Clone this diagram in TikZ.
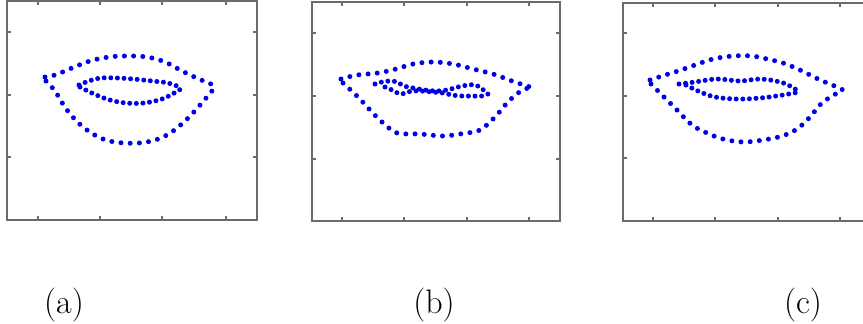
\documentclass[tikz,border=0pt]{standalone}
\usepackage{tikz}

\tikzset{
  frame/.style={draw=black!58, line width=0.75pt},
  axtick/.style={draw=black!58, line width=0.6pt},
  lipdots/.style={draw=blue!90!black, line width=2.5pt, line cap=round, dash pattern=on 0pt off 4.6pt},
  innerdots/.style={lipdots, dash pattern=on 0pt off 3.3pt},
  caption/.style={font=\fontsize{17}{20}\selectfont, inner sep=0pt}
}

\begin{document}
\begin{tikzpicture}[x=0.5pt, y=-0.5pt]
\useasboundingbox (0,0) rectangle (863,323);
\clip (0,0) rectangle (863,323);

% panel (a)
\draw[frame] (7,1) rectangle (257,220);
\foreach \tx in {38,100,162,226} {\draw[axtick] (\tx,1) -- ++(0,4); \draw[axtick] (\tx,220) -- ++(0,-4);}
\foreach \ty in {32,95,157} {\draw[axtick] (7,\ty) -- ++(4,0); \draw[axtick] (257,\ty) -- ++(-4,0);}
\draw[lipdots] plot[smooth, tension=0.6] coordinates {(45,77) (55,75) (72,68) (90,61) (109,57) (128,56) (147,57) (165,62) (182,71) (199,79) (216,86)};
\draw[lipdots] plot[smooth, tension=0.6] coordinates {(46,81) (55,91) (67,110) (83,127) (103,139) (124,143) (147,142) (167,135) (185,121) (201,104) (216,86)};
\draw[innerdots] plot[smooth, tension=0.6] coordinates {(79,85) (89,81) (101,78) (117,78) (133,79) (152,81) (168,83) (182,88)};
\draw[innerdots] plot[smooth, tension=0.6] coordinates {(80,87) (94,94) (110,100) (126,103) (144,103) (162,99) (176,92) (182,88)};

% panel (b)
\draw[frame] (312,2) rectangle (560,221);
\foreach \tx in {342,404,467,529} {\draw[axtick] (\tx,2) -- ++(0,4); \draw[axtick] (\tx,221) -- ++(0,-4);}
\foreach \ty in {33,96,159} {\draw[axtick] (312,\ty) -- ++(4,0); \draw[axtick] (560,\ty) -- ++(-4,0);}
\draw[lipdots] plot[smooth, tension=0.6] coordinates {(341,79) (357,75) (378,73) (396,69) (413,64) (433,62) (453,64) (473,69) (493,74) (512,81) (530,87)};
\draw[lipdots] plot[smooth, tension=0.5] coordinates {(343,83) (358,97) (370,110) (382,122) (397,133) (420,134) (442,136) (460,134) (480,130) (495,117) (507,103) (518,93) (530,87)};
\draw[innerdots] plot[smooth, tension=0.6] coordinates {(375,84) (382,82) (390,81) (397,82) (404,86) (413,88) (425,90) (437,91) (447,90) (458,87) (468,85) (475,85) (481,88) (488,94)};
\draw[innerdots] plot[smooth, tension=0.6] coordinates {(385,87) (392,90) (400,94) (405,93) (412,91) (422,91) (432,92) (443,93) (452,95) (462,96) (472,96) (482,96) (488,94)};

% panel (c)
\draw[frame] (623,3) rectangle (871,221);
\foreach \tx in {653,715,778,840} {\draw[axtick] (\tx,3) -- ++(0,4); \draw[axtick] (\tx,221) -- ++(0,-4);}
\foreach \ty in {33,96,158} {\draw[axtick] (623,\ty) -- ++(4,0);}
\draw[lipdots] plot[smooth, tension=0.6] coordinates {(650,80) (662,76) (678,71) (695,65) (713,59) (733,56) (752,56) (767,59) (783,63) (800,70) (818,79) (837,87) (843,90)};
\draw[lipdots] plot[smooth, tension=0.6] coordinates {(651,84) (662,95) (677,110) (692,125) (707,133) (723,139) (743,142) (763,140) (782,136) (797,129) (810,117) (823,102) (843,90)};
\draw[innerdots] plot[smooth, tension=0.6] coordinates {(679,84) (695,82) (717,79) (740,81) (760,79) (780,82) (792,87) (799,92)};
\draw[innerdots] plot[smooth, tension=0.6] coordinates {(686,85) (698,91) (715,97) (737,99) (760,98) (783,95) (799,92)};

% captions
\node[caption] (lab-a) at (64,305) {(a)};
\node[caption] (lab-b) at (434,305) {(b)};
\node[caption] (lab-c) at (803,305) {(c)};
\end{tikzpicture}
\end{document}
